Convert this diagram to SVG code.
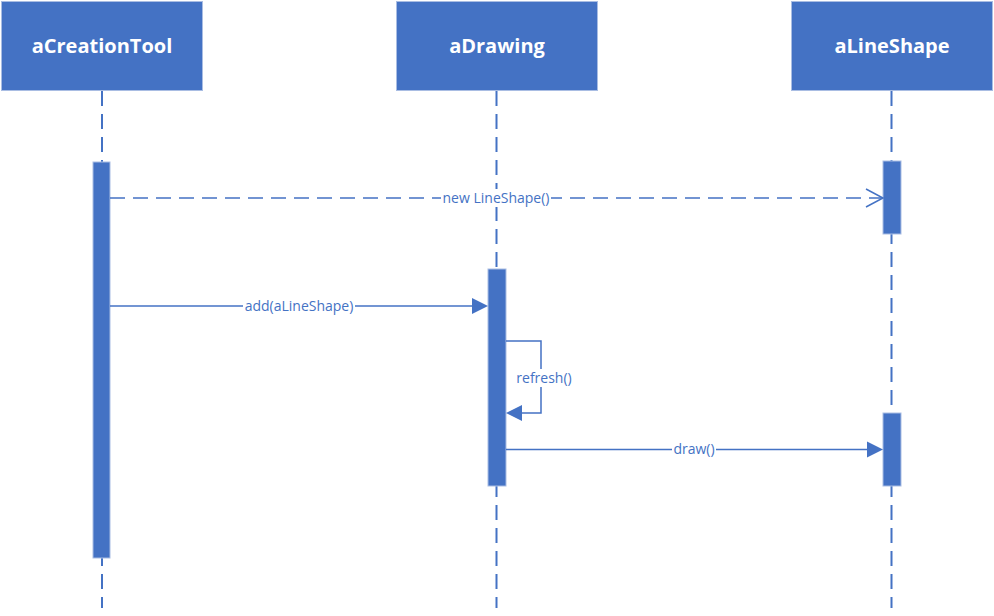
<svg xmlns="http://www.w3.org/2000/svg" width="994" height="616" viewBox="0 0 994 616">
<style>
.box{fill:#4472C4;stroke:#A9BDE3;stroke-width:1}
.title{font-family:"Open Sans","Noto Sans","Liberation Sans",sans-serif;font-weight:bold;font-size:20px;fill:#FFFFFF;text-anchor:middle}
.life{stroke:#4472C4;stroke-width:2;stroke-dasharray:15 8;fill:none}
.act{fill:#4472C4;stroke:#A9BDE3;stroke-width:1}
.msg{stroke:#4472C4;stroke-width:1.5;fill:none}
.dmsg{stroke:#4472C4;stroke-width:1.5;fill:none;stroke-dasharray:15 8}
.lbl{font-family:"Open Sans","Noto Sans","Liberation Sans",sans-serif;font-size:14px;fill:#4472C4;text-anchor:middle}
.lblbg{fill:#FFFFFF}
.head{fill:#4472C4}
</style>
<rect width="994" height="616" fill="#FFFFFF"/>
<g id="lifelines">
<line class="life" x1="102" y1="91" x2="102" y2="608"/>
<line class="life" x1="496.5" y1="91" x2="496.5" y2="608"/>
<line class="life" x1="891.5" y1="91" x2="891.5" y2="608"/>
</g>
<g id="aCreationTool">
<rect class="box" x="1.5" y="1.5" width="201" height="89"/>
<text class="title" x="102" y="53">aCreationTool</text>
<rect class="act" x="93" y="162" width="17" height="396"/>
</g>
<g id="aDrawing">
<rect class="box" x="396.5" y="1.5" width="201" height="89"/>
<text class="title" x="497" y="53">aDrawing</text>
<rect class="act" x="488" y="269" width="18" height="217"/>
</g>
<g id="aLineShape">
<rect class="box" x="791.5" y="1.5" width="201" height="89"/>
<text class="title" x="892" y="53">aLineShape</text>
<rect class="act" x="883" y="161" width="18" height="73"/>
<rect class="act" x="883" y="413" width="18" height="73"/>
</g>
<g id="connectors">
<line class="dmsg" x1="110" y1="198" x2="882" y2="198"/>
<polyline class="msg" points="866,189 883,198 866,207"/>
<rect class="lblbg" x="441" y="189" width="110" height="18"/>
<text class="lbl" x="496" y="203">new LineShape()</text>

<line class="msg" x1="110" y1="306" x2="472" y2="306"/>
<polygon class="head" points="472,298 488,306 472,314"/>
<rect class="lblbg" x="243" y="297" width="112" height="18"/>
<text class="lbl" x="299" y="311">add(aLineShape)</text>

<polyline class="msg" points="506,341 541,341 541,413 521,413"/>
<polygon class="head" points="522,405 506,413 522,421"/>
<rect class="lblbg" x="514" y="369" width="62" height="18"/>
<text class="lbl" x="544" y="383">refresh()</text>

<line class="msg" x1="506" y1="449.5" x2="867" y2="449.5"/>
<polygon class="head" points="867,441.5 883,449.5 867,457.5"/>
<rect class="lblbg" x="672" y="441" width="44" height="18"/>
<text class="lbl" x="694" y="454">draw()</text>
</g>
</svg>
